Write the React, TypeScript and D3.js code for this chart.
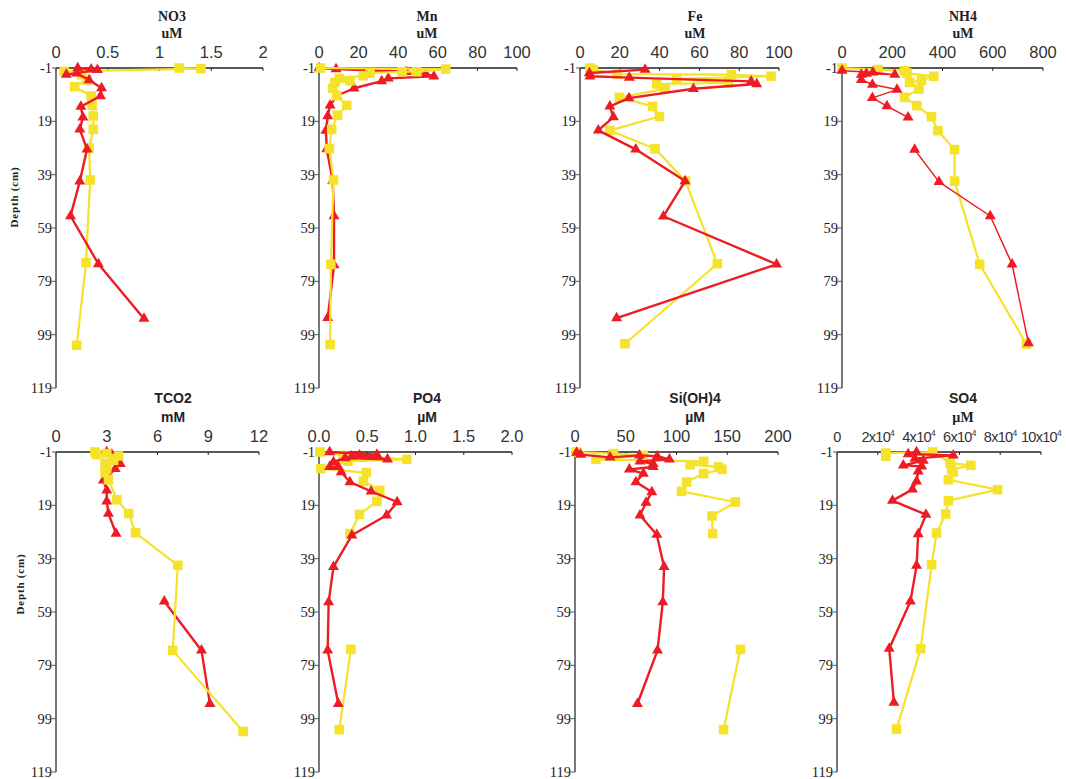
import React from 'react';
import * as d3 from 'd3';

// ---------- shared ----------
const depthTicks = [-1, 19, 39, 59, 79, 99, 119];

// ---------- NO3 (uM) ----------
const no3Ticks = [0, 0.5, 1, 1.5, 2];
const no3TickLabels = ['0', '0.5', '1', '1.5', '2'];
const no3RedDepth = [-1, -0.5, -0.3, 1.5, 1, 3.5, 6.5, 9.5, 13.5, 17.5, 22, 29.5, 41.5, 54.5, 72.5, 93];
const no3RedValue = [0.21, 0.34, 0.4, 0.1, 0.2, 0.32, 0.44, 0.43, 0.24, 0.26, 0.23, 0.3, 0.23, 0.14, 0.41, 0.85];
const no3YelDepth = [-1, -0.8, 0.3, 1.5, 3.5, 6, 9.5, 13, 17, 22, 29, 41, 72, 103];
const no3YelValue = [1.19, 1.4, 0.08, 0.25, 0.3, 0.18, 0.34, 0.35, 0.36, 0.36, 0.32, 0.33, 0.29, 0.2];

// ---------- Mn (uM) ----------
const mnTicks = [0, 20, 40, 60, 80, 100];
const mnTickLabels = ['0', '20', '40', '60', '80', '100'];
const mnRedDepth = [-1, -0.6, 0.4, 1.3, 2.1, 2.9, 3.9, 6.6, 9.4, 13, 17, 22.5, 29.4, 41.3, 54.5, 72.9, 92.7];
const mnRedValue = [0, 8.6, 44, 54, 58, 35, 31.7, 17.7, 9, 5.6, 4.4, 3.5, 3.9, 6.9, 7.6, 7.6, 4.4];
const mnYelDepth = [-1, -0.6, 0.4, 0.4, 0.9, 1.9, 2.9, 3.8, 4.4, 6.6, 9.4, 13, 16.7, 22, 29.2, 41, 72.6, 102.7];
const mnYelValue = [0.8, 64, 49.4, 42, 25.8, 22.4, 10.3, 15.7, 8, 7, 9, 14, 9.4, 6.4, 5.2, 7.3, 6, 5.6];

// ---------- Fe (uM) ----------
const feTicks = [0, 20, 40, 60, 80, 100];
const feTickLabels = ['0', '20', '40', '60', '80', '100'];
const feRedDepth = [-0.4, 0.9, 2.1, 2.6, 4, 5, 6.8, 10.3, 13.4, 17.4, 22.4, 29.5, 41.4, 54.6, 72.6, 92.8];
const feRedValue = [32.7, 4.7, 5, 24.8, 86, 88.8, 57, 24.6, 15, 16.8, 9.2, 28, 52.8, 41.9, 98.8, 18.4];
const feYelDepth = [-1, -0.4, 1.3, 1.5, 2.1, 3.1, 4.6, 5, 6.8, 10, 13.4, 17.2, 22.4, 29.3, 41.4, 72.4, 102.4];
const feYelValue = [5, 6.7, 18.8, 76, 96, 48.6, 74.5, 38.5, 42.7, 19.8, 36.5, 39.9, 15, 37.7, 53, 69, 22.6];

// ---------- NH4 (uM) ----------
const nh4Ticks = [0, 200, 400, 600, 800];
const nh4TickLabels = ['0', '200', '400', '600', '800'];
const nh4RedDepth = [0, 0.6, 1.5, 1.1, 1.5, 3.4, 5.2, 7.1, 10.2, 13.3, 17.5, 23, 29.6, 41.7, 54.5, 72.6, 102.2];
const nh4RedValue = [0, 123, 210, 97, 77, 77, 121, 219, 121, 179, 263, null, 289, 386, 590, 677, 742];
const nh4YelDepth = [-1, -0.4, 0, 0.9, 2.1, 3.6, 4.4, 6.9, 10, 13.1, 17.3, 22.5, 29.6, 41.4, 72.6, 102.5];
const nh4YelValue = [0, 143, 249, 259, 365, 316, 269, 306, 249, 298, 356, 382, 448, 448, 548, 734];

// ---------- TCO2 (mM) ----------
const tco2Ticks = [0, 3, 6, 9, 12];
const tco2TickLabels = ['0', '3', '6', '9', '12'];
const tco2RedDepth = [-1, 0, 1, 2.5, 3.4, 5.3, 9.6, 13.4, 17.5, 22.1, 29.6, 41, 55, 73.4, 93.4];
const tco2RedValue = [3.0, 3.3, 3.5, 3.6, 3.8, 3.5, 2.8, 3.0, 3.0, 3.1, 3.55, null, 6.4, 8.6, 9.1];
const tco2YelDepth = [-1, 0, -0.4, 0.5, 2.1, 3.4, 5.3, 6.8, 9.4, 16.9, 22.1, 29.3, 41.5, 73.4, 103.8];
const tco2YelValue = [2.3, 2.4, 3.0, 3.7, 3.4, 2.9, 3.0, 2.9, 3.1, 3.6, 4.3, 4.7, 7.2, 6.9, 11.06];

// ---------- PO4 (µM) ----------
const po4Ticks = [0, 0.5, 1, 1.5, 2];
const po4TickLabels = ['0.0', '0.5', '1.0', '1.5', '2.0'];
const po4RedDepth = [-1, 0, 0.6, 0.25, 1.75, 1.25, 2.75, 4.6, 4.6, 6.5, 10.25, 13.75, 17.75, 22.75, 30.25, 42.1, 55.25, 73.4, 93.4];
const po4RedValue = [0.11, 0.6, 0.34, 0.42, 0.71, 0.27, 0.15, 0.11, 0.2, 0.23, 0.32, 0.54, 0.81, 0.7, 0.34, 0.15, 0.1, 0.09, 0.2];
const po4YelDepth = [-1, 0.25, 1.75, 2.5, 5.25, 6.75, 10, 13.4, 17.5, 22.4, 29.6, 50, 73, 103.1];
const po4YelValue = [0.01, 0.25, 0.91, 0.3, 0.02, 0.49, 0.46, 0.63, 0.6, 0.42, 0.32, null, 0.33, 0.21];

// ---------- Si(OH)4 (µM) ----------
const siTicks = [0, 50, 100, 150, 200];
const siTickLabels = ['0', '50', '100', '150', '200'];
const siRedDepth = [-0.75, 0, 1, 0.25, 0.6, 1.75, 2.5, 3.4, 4.6, 5.5, 7.1, 10.25, 14, 18, 22.75, 30, 42.1, 55.25, 73.4, 93.4];
const siRedValue = [1.6, 5.6, 34.5, 63.5, 81, 93, 64, 77, 77, 53.6, 67.4, 60, 75.7, 70, 64, 80.6, 87.8, 86.5, 81.3, 61.5];
const siYelDepth = [-1, -0.4, 0.25, 1.75, 2.5, 3.75, 4.6, 5.5, 7.1, 10.25, 13.75, 17.75, 23, 29.6, 50, 73, 103.1];
const siYelValue = [1.6, 37.8, 67.4, 20.7, 126.7, 113.5, 141.5, 144.8, 126.7, 110, 105, 158, 135, 135.6, null, 163, 146.4];

// ---------- SO4 (µM) ----------
const so4Ticks = [0, 20000, 40000, 60000, 80000, 100000];
const so4TickLabels = ['0', '2x10', '4x10', '6x10', '8x10', '10x10'];
const so4TickExp = ['', '4', '4', '4', '4', '4'];
const so4RedDepth = [-1, -0.25, 0.25, 1.5, 2.25, 4, 4.4, 6.25, 10, 13, 17.25, 22.5, 29.75, 41.6, 55, 72.75, 93];
const so4RedValue = [39000, 34900, 57000, 38200, 42300, 32500, 41500, 39800, 39000, 37000, 27200, 43600, 39800, 39000, 36000, 25600, 27900];
const so4YelDepth = [0.6, -0.6, -1, 3.1, 4, 5.6, 6.5, 9.4, 13.1, 17.25, 22.25, 29.4, 41.25, 72.75, 102.9];
const so4YelValue = [23900, 23900, 46900, 55400, 65600, 56200, 57000, 54600, 78700, 54600, 53300, 48800, 46400, 41000, 29200];

const RED = '#ED1C24';
const YELLOW = '#F5E22A';
const SERIF = '"Liberation Serif", "Times New Roman", serif';
const SANS = '"Liberation Sans", Arial, sans-serif';

type Series = { d: number[]; v: (number | null)[] };
type PanelCfg = {
  x0: number; x1: number; y0: number; y1: number;
  domain: [number, number];
  ticks: number[]; labels: string[]; exps?: string[]; tickFont: number;
  title: [string, string]; titleFonts: [string, string]; titleX: number; titleY: [number, number];
  red: Series; yellow: Series; redOnTop: boolean; redWidth: number;
};

const TOP = { y0: 68, y1: 388, t: [20.5, 37.5] as [number, number] };
const BOT = { y0: 452, y1: 772, t: [402.5, 422] as [number, number] };

const panels: PanelCfg[] = [
  { x0: 56, x1: 263, y0: TOP.y0, y1: TOP.y1, domain: [0, 2], ticks: no3Ticks, labels: no3TickLabels, tickFont: 16.5,
    title: ['NO3', 'uM'], titleFonts: [SERIF, SERIF], titleX: 172, titleY: TOP.t,
    red: { d: no3RedDepth, v: no3RedValue }, yellow: { d: no3YelDepth, v: no3YelValue }, redOnTop: true, redWidth: 2.4 },
  { x0: 319, x1: 517, y0: TOP.y0, y1: TOP.y1, domain: [0, 100], ticks: mnTicks, labels: mnTickLabels, tickFont: 16.5,
    title: ['Mn', 'uM'], titleFonts: [SERIF, SERIF], titleX: 427, titleY: TOP.t,
    red: { d: mnRedDepth, v: mnRedValue }, yellow: { d: mnYelDepth, v: mnYelValue }, redOnTop: false, redWidth: 2.4 },
  { x0: 580, x1: 779, y0: TOP.y0, y1: TOP.y1, domain: [0, 100], ticks: feTicks, labels: feTickLabels, tickFont: 16.5,
    title: ['Fe', 'uM'], titleFonts: [SERIF, SERIF], titleX: 695, titleY: TOP.t,
    red: { d: feRedDepth, v: feRedValue }, yellow: { d: feYelDepth, v: feYelValue }, redOnTop: true, redWidth: 2.4 },
  { x0: 842, x1: 1043, y0: TOP.y0, y1: TOP.y1, domain: [0, 800], ticks: nh4Ticks, labels: nh4TickLabels, tickFont: 16.5,
    title: ['NH4', 'uM'], titleFonts: [SERIF, SERIF], titleX: 963, titleY: TOP.t,
    red: { d: nh4RedDepth, v: nh4RedValue }, yellow: { d: nh4YelDepth, v: nh4YelValue }, redOnTop: true, redWidth: 1.5 },
  { x0: 56, x1: 259, y0: BOT.y0, y1: BOT.y1, domain: [0, 12], ticks: tco2Ticks, labels: tco2TickLabels, tickFont: 16.5,
    title: ['TCO2', 'mM'], titleFonts: [SANS, SANS], titleX: 173, titleY: BOT.t,
    red: { d: tco2RedDepth, v: tco2RedValue }, yellow: { d: tco2YelDepth, v: tco2YelValue }, redOnTop: false, redWidth: 2.4 },
  { x0: 319, x1: 512, y0: BOT.y0, y1: BOT.y1, domain: [0, 2], ticks: po4Ticks, labels: po4TickLabels, tickFont: 16.5,
    title: ['PO4', 'µM'], titleFonts: [SANS, SANS], titleX: 427, titleY: BOT.t,
    red: { d: po4RedDepth, v: po4RedValue }, yellow: { d: po4YelDepth, v: po4YelValue }, redOnTop: true, redWidth: 2.4 },
  { x0: 575, x1: 778, y0: BOT.y0, y1: BOT.y1, domain: [0, 200], ticks: siTicks, labels: siTickLabels, tickFont: 16.5,
    title: ['Si(OH)4', 'µM'], titleFonts: [SANS, SANS], titleX: 695, titleY: BOT.t,
    red: { d: siRedDepth, v: siRedValue }, yellow: { d: siYelDepth, v: siYelValue }, redOnTop: true, redWidth: 2.4 },
  { x0: 837, x1: 1041, y0: BOT.y0, y1: BOT.y1, domain: [0, 100000], ticks: so4Ticks, labels: so4TickLabels, exps: so4TickExp, tickFont: 14.5,
    title: ['SO4', 'µM'], titleFonts: [SANS, SERIF], titleX: 963, titleY: BOT.t,
    red: { d: so4RedDepth, v: so4RedValue }, yellow: { d: so4YelDepth, v: so4YelValue }, redOnTop: true, redWidth: 2.4 },
];

const triPath = d3.symbol().type(d3.symbolTriangle).size(52)() as string;
const sqPath = d3.symbol().type(d3.symbolSquare).size(92)() as string;

function SeriesG({ s, x, y, color, width, marker }: { s: Series; x: d3.ScaleLinear<number, number>; y: d3.ScaleLinear<number, number>; color: string; width: number; marker: string }) {
  const pts: [number, number | null][] = s.d.map((d, i) => [d, s.v[i]]);
  const line = d3.line<[number, number | null]>()
    .defined(p => p[1] != null)
    .x(p => x(p[1] as number))
    .y(p => y(p[0]));
  return (
    <g>
      <path d={line(pts) || ''} fill="none" stroke={color} strokeWidth={width} strokeLinejoin="round" />
      {pts.filter(p => p[1] != null).map((p, i) => (
        <path key={i} d={marker} transform={`translate(${x(p[1] as number)},${y(p[0])})`} fill={color} />
      ))}
    </g>
  );
}

function Panel({ p }: { p: PanelCfg }) {
  const x = d3.scaleLinear().domain(p.domain).range([p.x0, p.x1]);
  const y = d3.scaleLinear().domain([-1, 119]).range([p.y0, p.y1]);
  const red = <SeriesG s={p.red} x={x} y={y} color={RED} width={p.redWidth} marker={triPath} />;
  const yel = <SeriesG s={p.yellow} x={x} y={y} color={YELLOW} width={2.2} marker={sqPath} />;
  return (
    <g>
      <text x={p.titleX} y={p.titleY[0]} textAnchor="middle" fontFamily={p.titleFonts[0]} fontWeight="bold" fontSize={14} fill="#222">{p.title[0]}</text>
      <text x={p.titleX} y={p.titleY[1]} textAnchor="middle" fontFamily={p.titleFonts[1]} fontWeight="bold" fontSize={14} fill="#222">{p.title[1]}</text>
      {/* x axis on top */}
      <line x1={p.x0} x2={p.x1} y1={p.y0} y2={p.y0} stroke="#222" strokeWidth={1.3} />
      {p.ticks.map((t, i) => (
        <g key={i}>
          <line x1={x(t)} x2={x(t)} y1={p.y0} y2={p.y0 + 3} stroke="#222" strokeWidth={1} />
          <text x={x(t)} y={p.y0 - 10} textAnchor="middle" fontFamily={SANS} fontSize={p.tickFont} letterSpacing={p.exps ? -0.7 : 0} fill="#333">
            {p.labels[i]}
            {p.exps && p.exps[i] ? <tspan fontSize={8.5} dy={-6.5}>{p.exps[i]}</tspan> : null}
          </text>
        </g>
      ))}
      {/* y axis */}
      <line x1={p.x0} x2={p.x0} y1={p.y0} y2={p.y1} stroke="#555" strokeWidth={1.6} />
      {depthTicks.map((t, i) => (
        <g key={i}>
          <line x1={p.x0 - 4} x2={p.x0} y1={y(t)} y2={y(t)} stroke="#555" strokeWidth={1} />
          <text x={p.x0 - 4} y={y(t) + 5} textAnchor="end" fontFamily={SERIF} fontSize={14.5} fill="#222">{t}</text>
        </g>
      ))}
      {p.redOnTop ? <>{yel}{red}</> : <>{red}{yel}</>}
    </g>
  );
}

export default function App() {
  return (
    <svg width={1066} height={779} style={{ position: 'absolute', left: 0, top: 0, background: '#fff' }}>
      <rect x={0} y={0} width={1066} height={779} fill="#fff" />
      {panels.map((p, i) => <Panel key={i} p={p} />)}
      <text transform="translate(18,197) rotate(-90)" textAnchor="middle" fontFamily={SERIF} fontWeight="bold" fontSize={11} letterSpacing={0.8} fill="#222">Depth (cm)</text>
      <text transform="translate(24,584) rotate(-90)" textAnchor="middle" fontFamily={SERIF} fontWeight="bold" fontSize={11} letterSpacing={0.8} fill="#222">Depth (cm)</text>
    </svg>
  );
}
